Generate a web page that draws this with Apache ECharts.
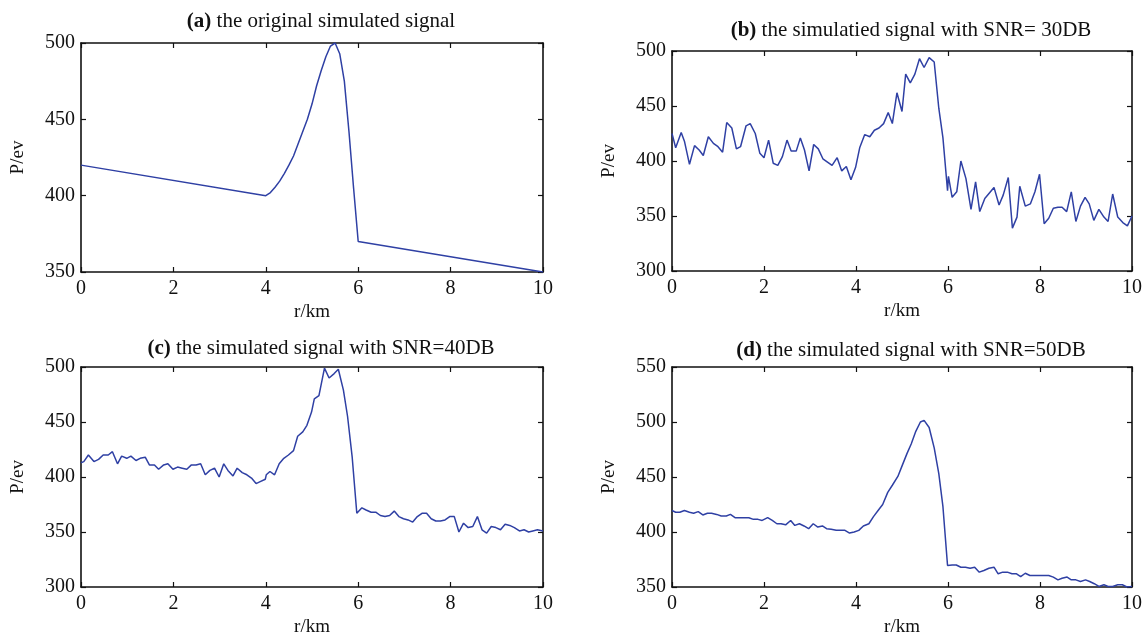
<!DOCTYPE html>
<html>
<head>
<meta charset="utf-8">
<title>simulated signal</title>
<script src="https://cdn.jsdelivr.net/npm/echarts@6/dist/echarts.min.js"></script>
<style>
    html, body { margin: 0; padding: 0; background: #fff; }
    #main { width: 1148px; height: 644px; }
</style>
</head>
<body>
<div id="main"></div>
<script>
// (a) original signal
var rA = [0, 4, 4.1, 4.2, 4.3, 4.4, 4.5, 4.6, 4.7, 4.8, 4.9, 5.0, 5.1, 5.2, 5.3, 5.4, 5.5, 5.6, 5.7, 5.8, 5.9, 6.0, 10];
var pA = [420, 400, 402, 405.5, 409.5, 414.5, 420, 426, 434, 442, 450, 460, 472, 482, 491, 498, 500, 493, 475, 442, 405, 370, 350];

// (b) SNR = 30DB
var rB = [0, 0.08, 0.2, 0.27, 0.38, 0.49, 0.59, 0.68, 0.79, 0.9, 1.0, 1.1, 1.19, 1.3, 1.4, 1.49, 1.61, 1.7, 1.81, 1.91,
    2.0, 2.1, 2.2, 2.3, 2.4, 2.5, 2.59, 2.7, 2.79, 2.88, 2.98, 3.08, 3.18, 3.28, 3.38, 3.48, 3.59, 3.69, 3.79, 3.89,
    3.99, 4.08, 4.19, 4.3, 4.4, 4.5, 4.6, 4.7, 4.79, 4.89, 5.0, 5.08, 5.18, 5.28, 5.38, 5.48, 5.59, 5.7, 5.8, 5.89,
    5.99, 6.01, 6.09, 6.19, 6.28, 6.39, 6.5, 6.6, 6.69, 6.8, 6.9, 7.0, 7.11, 7.2, 7.31, 7.4, 7.5, 7.56, 7.68, 7.79,
    7.89, 7.99, 8.09, 8.19, 8.29, 8.39, 8.48, 8.58, 8.68, 8.78, 8.88, 8.98, 9.07, 9.17, 9.28, 9.39, 9.48, 9.58, 9.69, 9.8,
    9.9, 10];
var pB = [425, 412, 426, 418, 397, 414, 410, 405, 422, 416, 413, 408, 435, 430, 411, 413, 432, 434, 425, 407,
    403, 419, 398, 396, 404, 419, 409, 409, 421, 410, 391, 415, 411, 402, 399, 396, 403, 391, 395, 383,
    394, 412, 424, 422, 428, 430, 434, 444, 434, 462, 445, 479, 471, 479, 493, 485, 494, 490, 448, 421,
    373, 386, 367, 372, 400, 384, 356, 381, 354, 366, 371, 376, 360, 369, 385, 339, 349, 377, 359, 361,
    372, 388, 343, 348, 357, 358, 358, 354, 372, 345, 359, 367, 361, 346, 356, 349, 345, 370, 349, 344,
    341, 350];

// (c) SNR = 40DB
var rC = [0, 0.06, 0.16, 0.28, 0.38, 0.48, 0.59, 0.68, 0.79, 0.88, 0.99, 1.08, 1.19, 1.28, 1.39, 1.48, 1.59, 1.68, 1.79, 1.88,
    1.99, 2.09, 2.19, 2.29, 2.39, 2.49, 2.59, 2.69, 2.79, 2.89, 2.99, 3.09, 3.18, 3.29, 3.38, 3.49, 3.59, 3.69, 3.79, 3.89,
    3.99, 4.01, 4.09, 4.19, 4.29, 4.39, 4.49, 4.6, 4.69, 4.8, 4.89, 4.99, 5.05, 5.15, 5.27, 5.37, 5.48, 5.57, 5.68, 5.77,
    5.87, 5.97, 6.08, 6.17, 6.28, 6.38, 6.48, 6.58, 6.68, 6.78, 6.88, 6.98, 7.08, 7.18, 7.28, 7.38, 7.48, 7.58, 7.68, 7.78,
    7.88, 7.98, 8.08, 8.18, 8.28, 8.38, 8.48, 8.58, 8.68, 8.78, 8.88, 8.98, 9.08, 9.18, 9.28, 9.38, 9.49, 9.59, 9.69, 9.78,
    9.88, 10];
var pC = [413, 414, 420, 414, 416, 420, 420, 423, 412, 419, 417, 419, 415, 417, 418, 411, 411, 407, 411, 412,
    407, 409, 408, 407, 411, 411, 412, 402, 406, 408, 400, 412, 406, 401, 408, 404, 402, 399, 394, 396,
    398, 402, 405, 402, 412, 417, 420, 424, 437, 441, 447, 459, 471, 474, 499, 490, 494, 498, 479, 455,
    418, 367, 372, 370, 368, 368, 365, 364, 365, 369, 364, 362, 361, 359, 364, 367, 367, 362, 360, 360,
    361, 364, 364, 350, 358, 354, 355, 364, 352, 349, 355, 354, 352, 357, 356, 354, 351, 352, 350, 351,
    352, 351];

// (d) SNR = 50DB
var rD = [0, 0.08, 0.17, 0.27, 0.38, 0.47, 0.57, 0.67, 0.77, 0.86, 0.97, 1.07, 1.18, 1.27, 1.37, 1.48, 1.57, 1.67, 1.77, 1.87,
    1.96, 2.08, 2.18, 2.28, 2.37, 2.47, 2.58, 2.67, 2.77, 2.87, 2.97, 3.07, 3.17, 3.27, 3.36, 3.46, 3.57, 3.66, 3.76, 3.86,
    3.96, 4.06, 4.16, 4.28, 4.38, 4.48, 4.58, 4.69, 4.79, 4.91, 5.01, 5.11, 5.2, 5.3, 5.4, 5.48, 5.59, 5.7, 5.8, 5.89,
    5.99, 6.09, 6.18, 6.28, 6.38, 6.48, 6.58, 6.68, 6.78, 6.89, 7.0, 7.09, 7.19, 7.29, 7.39, 7.49, 7.58, 7.68, 7.78, 7.88,
    7.98, 8.08, 8.19, 8.29, 8.39, 8.48, 8.59, 8.68, 8.78, 8.88, 8.99, 9.08, 9.18, 9.28, 9.39, 9.48, 9.58, 9.69, 9.79, 9.89,
    10];
var pD = [419.5, 418, 418, 419.5, 418, 417, 418.5, 415.5, 417, 417, 416, 414.5, 414.5, 416, 413, 413, 413, 413, 411.5, 411.5,
    410.5, 413, 410.5, 407.5, 407.5, 406.5, 410.5, 406, 407.5, 405.5, 403, 407.5, 404.5, 405.5, 403, 402.5, 401.5, 401.5, 401.5, 399,
    400, 401.5, 405.5, 407.5, 414, 419.5, 425, 436, 442.5, 450.5, 461, 471.5, 480, 491.5, 500, 501.5, 495, 476.5, 453, 423,
    369.5, 370, 370, 368, 368, 367, 368, 363.5, 365, 367, 368, 362, 363.5, 363.5, 362, 362, 359.5, 362.5, 360.5, 360.5,
    360.5, 360.5, 360.5, 359, 356.5, 358, 359, 356.5, 356.5, 355, 356.5, 355, 353, 350.5, 352, 350.5, 350.5, 352, 352, 350,
    350.5];

var xTicks = [0, 10, 2];
var yRanges = [[350, 500], [300, 500], [300, 500], [350, 550]];
var titles = [
    ['(a)', ' the original simulated signal'],
    ['(b)', ' the simulatied signal with SNR= 30DB'],
    ['(c)', ' the simulated signal with SNR=40DB'],
    ['(d)', ' the simulated signal with SNR=50DB']
];

var serif = 'Liberation Serif, Times New Roman, serif';
var lineColor = '#2f40a4';

var grids = [
    {left: 81, top: 43, width: 462, height: 229},
    {left: 672, top: 51, width: 460, height: 220},
    {left: 81, top: 367, width: 462, height: 220},
    {left: 672, top: 367, width: 460, height: 220}
];
var titleTops = [6, 15, 333, 335];

function pairs(r, p) {
    var out = [];
    for (var i = 0; i < r.length; i++) {
        out.push([r[i], p[i]]);
    }
    return out;
}

function frame() {
    return {show: true, onZero: false, lineStyle: {color: '#111', width: 1.6}};
}

function tick() {
    return {show: true, inside: true, length: 5, lineStyle: {color: '#111', width: 1.2}};
}

var seriesData = [pairs(rA, pA), pairs(rB, pB), pairs(rC, pC), pairs(rD, pD)];

var xAxis = [], yAxis = [], series = [], title = [];
for (var i = 0; i < 4; i++) {
    var g = grids[i];
    xAxis.push({
        type: 'value', gridIndex: i, position: 'bottom',
        min: xTicks[0], max: xTicks[1], interval: xTicks[2],
        axisLine: frame(), axisTick: tick(), splitLine: {show: false},
        axisLabel: {color: '#111', fontFamily: serif, fontSize: 20, margin: 7},
        name: 'r/km', nameLocation: 'middle', nameGap: 31,
        nameTextStyle: {color: '#111', fontFamily: serif, fontSize: 19}
    });
    xAxis.push({
        type: 'value', gridIndex: i, position: 'top',
        min: xTicks[0], max: xTicks[1], interval: xTicks[2],
        axisLine: frame(), axisTick: tick(), splitLine: {show: false},
        axisLabel: {show: false}
    });
    yAxis.push({
        type: 'value', gridIndex: i, position: 'left',
        min: yRanges[i][0], max: yRanges[i][1], interval: 50,
        axisLine: frame(), axisTick: tick(), splitLine: {show: false},
        axisLabel: {color: '#111', fontFamily: serif, fontSize: 20, margin: 6},
        name: 'P/ev', nameLocation: 'middle', nameGap: 53,
        nameTextStyle: {color: '#111', fontFamily: serif, fontSize: 19}
    });
    yAxis.push({
        type: 'value', gridIndex: i, position: 'right',
        min: yRanges[i][0], max: yRanges[i][1], interval: 50,
        axisLine: frame(), axisTick: tick(), splitLine: {show: false},
        axisLabel: {show: false}
    });
    series.push({
        type: 'line', xAxisIndex: 2 * i, yAxisIndex: 2 * i,
        data: seriesData[i], showSymbol: false, smooth: false,
        lineStyle: {color: lineColor, width: 1.5},
        animation: false
    });
    title.push({
        text: '{b|' + titles[i][0] + '}{n|' + titles[i][1] + '}',
        left: g.left + g.width / 2 + 4, top: titleTops[i], textAlign: 'center',
        textStyle: {
            fontWeight: 'normal',
            rich: {
                b: {fontFamily: serif, fontSize: 21, fontWeight: 'bold', color: '#111'},
                n: {fontFamily: serif, fontSize: 21, fontWeight: 'normal', color: '#111'}
            }
        }
    });
}

var chart = echarts.init(document.getElementById('main'));
chart.setOption({
    backgroundColor: '#fff',
    animation: false,
    title: title,
    grid: grids,
    xAxis: xAxis,
    yAxis: yAxis,
    series: series
});
</script>
</body>
</html>
